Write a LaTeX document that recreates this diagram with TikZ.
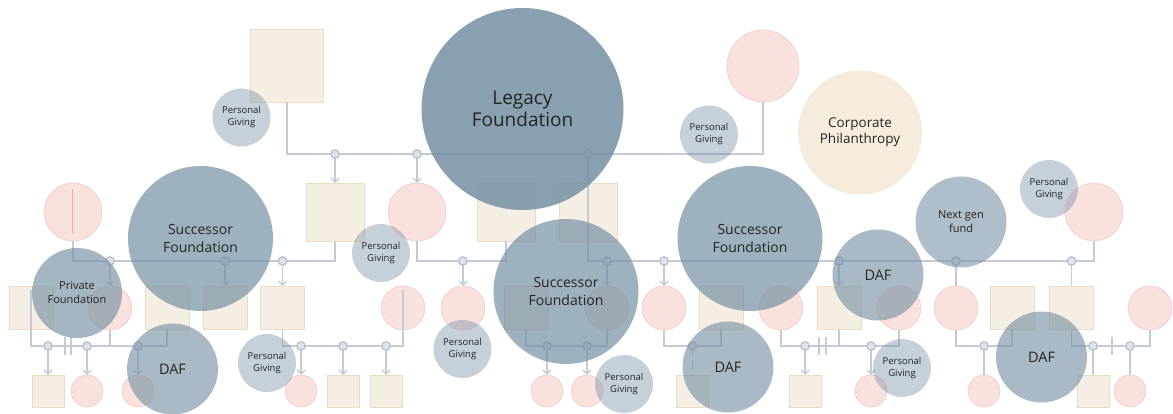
\documentclass[tikz,border=0pt]{standalone}
\usepackage{fontspec}
\setmainfont{Open Sans}
\usetikzlibrary{arrows.meta}
\definecolor{slate}{RGB}{117,144,164}
\definecolor{pkfill}{RGB}{249,226,221}
\definecolor{pkline}{RGB}{242,203,195}
\definecolor{sqfill}{RGB}{245,238,226}
\definecolor{sqline}{RGB}{236,220,194}
\definecolor{lncol}{RGB}{196,203,215}
\definecolor{jnfill}{RGB}{222,227,234}
\definecolor{jnline}{RGB}{176,187,201}
\definecolor{txt}{RGB}{36,36,36}
\definecolor{corp}{RGB}{245,236,220}
\definecolor{redln}{RGB}{241,176,160}
\definecolor{paleln}{RGB}{228,228,234}
\begin{document}
\begin{tikzpicture}[x=1pt,y=-1pt,
  sq/.style={rectangle,draw=sqline,fill=sqfill,line width=0.6pt,minimum width=#1,minimum height=#1,inner sep=0pt,outer sep=0pt},
  sqr/.style={rectangle,draw=sqline,fill=sqfill,line width=0.6pt,minimum width=44pt,minimum height=43pt,inner sep=0pt,outer sep=0pt},
  pk/.style={circle,draw=pkline,fill=pkfill,line width=0.6pt,minimum size=#1,inner sep=0pt,outer sep=0pt},
  jn/.style={circle,draw=jnline,fill=jnfill,line width=1.1pt,minimum size=8.5pt,inner sep=0pt,outer sep=0pt},
  dotn/.style={circle,fill=jnline,minimum size=3pt,inner sep=0pt},
  ln/.style={draw=lncol,line width=1.7pt},
  arr/.style={ln,-{Straight Barb[length=4pt,width=8pt,line width=1.3pt]}},
  adopt/.style={ln,dash pattern=on 10pt off 4pt},
  dv/.style={draw=lncol,line width=1.4pt},
  give/.style={circle,fill=slate,fill opacity=#1,text opacity=1,text=txt,inner sep=0pt,align=center},
  ]
\fill[white] (0,0) rectangle (1173,414);
\useasboundingbox (0,0) rectangle (1173,414);

% ---------- generation 1
\node[sq=73pt] (s1) at (287,65.5) {};
\node[pk=72pt] (c1) at (763,66) {};
% ---------- generation 2
\node[sq=58pt] (s2) at (335,212) {};
\node[pk=58pt] (c2) at (73,212) {};
\node[pk=58pt] (c3) at (417,212) {};
\node[sq=58pt] (s3) at (506,212) {};
\node[sq=58pt] (s4) at (588,212) {};
\node[pk=58pt] (c4) at (1094,212) {};
% ---------- generation 3
\node[sqr] (s5) at (31,307.5) {};
\node[pk=44pt] (c5) at (110,308) {};
\node[sqr] (s6) at (167,307.5) {};
\node[sqr] (s7) at (225,307.5) {};
\node[sqr] (s8) at (282.5,307.5) {};
\node[pk=44pt] (c6) at (403,308) {};
\node[pk=44pt] (c7) at (463,308) {};
\node[sqr] (s9) at (526,307.5) {};
\node[pk=44pt] (c8) at (607,308) {};
\node[pk=44pt] (c9) at (664,308) {};
\node[sqr] (s10) at (721,307.5) {};
\node[pk=44pt] (c10) at (781,308) {};
\node[sqr] (s11) at (839,307.5) {};
\node[pk=44pt] (c11) at (899,308) {};
\node[pk=44pt] (c12) at (956,308) {};
\node[sqr] (s12) at (1012,307.5) {};
\node[sqr] (s13) at (1071.5,307.5) {};
\node[pk=44pt] (c13) at (1150,308) {};
% ---------- generation 4
\node[sq=32pt] (s14) at (48,391) {};
\node[pk=32pt] (c14) at (87,391) {};
\node[pk=32pt] (c15) at (138,391) {};
\node[pk=32pt] (c16) at (301,391) {};
\node[sq=32pt] (s15) at (343,391) {};
\node[sq=32pt] (s16) at (386,391) {};
\node[pk=32pt] (c17) at (547,391) {};
\node[pk=32pt] (c18) at (587,391) {};
\node[sq=32pt] (s17) at (692.5,391) {};
\node[sq=32pt] (s18) at (805,391) {};
\node[pk=32pt] (c19) at (871,391) {};
\node[pk=32pt] (c20) at (984,391) {};
\node[sq=32pt] (s19) at (1093,391) {};
\node[pk=32pt] (c21) at (1130,391) {};

% ---------- junction coordinates
\coordinate (j11) at (335,154);
\coordinate (j12) at (417,154);
\coordinate (j0) at (521,154);
\coordinate (j13) at (588,154);
\coordinate (ja1) at (110,261);
\coordinate (ja2) at (225,261);
\coordinate (ja3) at (282.5,261);
\coordinate (jb1) at (463,261);
\coordinate (jc1) at (607,261);
\coordinate (jc2) at (664,261);
\coordinate (jc3) at (839,261);
\coordinate (jc4) at (956,261);
\coordinate (jc5) at (1071.5,261);
\coordinate (k1) at (48,346);
\coordinate (k2) at (87,346);
\coordinate (k3) at (138,346);
\coordinate (k4) at (301,346);
\coordinate (k5) at (343,346);
\coordinate (k6) at (386,346);
\coordinate (k7) at (547,346);
\coordinate (k8) at (587,346);
\coordinate (k9) at (692.5,346);
\coordinate (k10) at (805,346);
\coordinate (k11) at (871,346);
\coordinate (k12) at (984,346);
\coordinate (k13) at (1093,346);
\coordinate (k14) at (1130,346);

% ---------- connectors
\draw[ln] (s1.south) |- (j11) -- (j13) -| (c1.south);
\draw[arr] (j11) -- (s2.north);
\draw[arr] (j12) -- (c3.north);
\draw[arr] (j13) -- (s4.north);

\draw[ln] (c2.south) |- (ja1) -- (ja3) -| (s2.south);
\draw[redln,line width=0.9pt] ([xshift=-1pt,yshift=-6pt]c2.north) -- ([xshift=-1pt,yshift=7pt]c2.south);
\draw[paleln,line width=1.3pt] ([xshift=0.5pt,yshift=-6pt]c2.north) -- ([xshift=0.5pt,yshift=7pt]c2.south);
\draw[arr] (ja1) -- (c5.north);
\draw[arr] (ja2) -- (s7.north);
\draw[arr] (ja3) -- (s8.north);

\draw[ln] (c3.south) |- (jb1) -| (s3.south);
\draw[arr] (jb1) -- (c7.north);

\draw[ln] (s4.north) -- (s4.south);
\draw[ln] (s4.south) |- (jc1) -- (jc5) -| (c4.south);
\draw[arr] (jc1) -- (c8.north);
\draw[arr] (jc2) -- (c9.north);
\draw[arr] (jc3) -- (s11.north);
\draw[ln] (jc4) -- (c12.north);
\draw[ln] (jc5) -- (s13.north);

\draw[ln] ([yshift=-4pt]s5.north) -- (s5.south);
\draw[ln] (s5.south) |- (k1) -- (k3) -| (s6.south);
\draw[ln] (c5.south) -- (c5.south |- k1);
\draw[dv] (65,337) -- (65,355);
\draw[dv] (71,337) -- (71,355);
\draw[arr] (k1) -- (s14.north);
\draw[arr] (k2) -- (c14.north);
\draw[arr] (k3) -- (c15.north);

\draw[ln] ([yshift=-4pt]c6.north) -- (c6.south);
\draw[ln] (s8.south) |- (k4) -- (k6) -| (c6.south);
\draw[arr] (k4) -- (c16.north);
\draw[arr] (k5) -- (s15.north);
\draw[arr] (k6) -- (s16.north);

\draw[ln] (s9.south) |- (k7) -- (k8) -| (c8.south);
\draw[arr] (k7) -- (c17.north);
\draw[arr] (k8) -- (c18.north);

\draw[ln] (c9.south) |- (k9) -| (s10.south);
\draw[adopt] (k9) -- (s17.north);

\draw[ln] (c10.south) |- (k10) -- (k11) -| (c11.south);
\draw[ln] (s11.south) -- (s11.south |- k10);
\draw[dv] (819,337) -- (819,355);
\draw[dv] (826,337) -- (826,355);
\draw[arr] (k10) -- (s18.north);
\draw[arr] (k11) -- (c19.north);

\draw[ln] (c12.south) |- (k12) -| (s12.south);
\draw[ln] (k12) -- (c20.north);

\draw[ln] (s13.south) |- (k13) -- (k14) -| (c13.south);
\draw[dv] (1112,337) -- (1112,355);
\draw[ln] (k13) -- (s19.north);
\draw[ln] (k14) -- (c21.north);

% ---------- junction marks
\foreach \j in {j11,j12,j13,ja1,ja2,ja3,jb1,jc1,jc2,jc3,jc4,jc5,k1,k2,k3,k4,k5,k6,k7,k8,k9,k10,k11,k12,k13,k14}
  \node[jn] (J\j) at (\j) {};
\node[dotn] (Jj0) at (j0) {};

% ---------- giving vehicles
\node[give=0.85,minimum size=202pt,font=\fontsize{19}{22}\selectfont] (legacy) at (522.5,109) {Legacy\\Foundation};
\node[give=0.42,minimum size=58pt,font=\fontsize{9.5}{12}\selectfont] (pg1) at (241.5,117.5) {Personal\\Giving};
\node[give=0.42,minimum size=58pt,font=\fontsize{9.5}{12}\selectfont] (pg2) at (709,134.5) {Personal\\Giving};
\node[circle,fill=corp,inner sep=0pt,minimum size=124pt,align=center,text=txt,font=\fontsize{13.5}{16}\selectfont] (corp) at (860,132.5) {Corporate\\Philanthropy};
\node[give=0.7,minimum size=145pt,font=\fontsize{14}{17.5}\selectfont] (sf1) at (200.5,238.5) {Successor\\Foundation};
\node[give=0.7,minimum size=145pt,font=\fontsize{14}{17.5}\selectfont] (sf2) at (566,291.5) {Successor\\Foundation};
\node[give=0.7,minimum size=145pt,font=\fontsize{14}{17.5}\selectfont] (sf3) at (750,238.5) {Successor\\Foundation};
\node[give=0.42,minimum size=58pt,font=\fontsize{9.5}{12}\selectfont] (pg3) at (381,253) {Personal\\Giving};
\node[give=0.65,minimum size=90pt,font=\fontsize{11}{14}\selectfont] (pf) at (77,293) {Private\\Foundation};
\node[give=0.62,minimum size=91pt,font=\fontsize{14.5}{17}\selectfont] (daf1) at (172.5,369) {DAF};
\node[give=0.42,minimum size=58pt,font=\fontsize{9.5}{12}\selectfont] (pg4) at (267,363) {Personal\\Giving};
\node[give=0.42,minimum size=58pt,font=\fontsize{9.5}{12}\selectfont] (pg5) at (462.5,349) {Personal\\Giving};
\node[give=0.42,minimum size=58pt,font=\fontsize{9.5}{12}\selectfont] (pg6) at (624,384) {Personal\\Giving};
\node[give=0.62,minimum size=91pt,font=\fontsize{14.5}{17}\selectfont] (daf2) at (728,367) {DAF};
\node[give=0.62,minimum size=91pt,font=\fontsize{14.5}{17}\selectfont] (daf3) at (878,275) {DAF};
\node[give=0.58,minimum size=91pt,font=\fontsize{11}{14}\selectfont] (ngf) at (961,222) {Next gen\\fund};
\node[give=0.42,minimum size=58pt,font=\fontsize{9.5}{12}\selectfont] (pg7) at (1049,189) {Personal\\Giving};
\node[give=0.42,minimum size=58pt,font=\fontsize{9.5}{12}\selectfont] (pg8) at (902,368) {Personal\\Giving};
\node[give=0.62,minimum size=91pt,font=\fontsize{14.5}{17}\selectfont] (daf4) at (1041.5,357) {DAF};
\end{tikzpicture}
\end{document}
